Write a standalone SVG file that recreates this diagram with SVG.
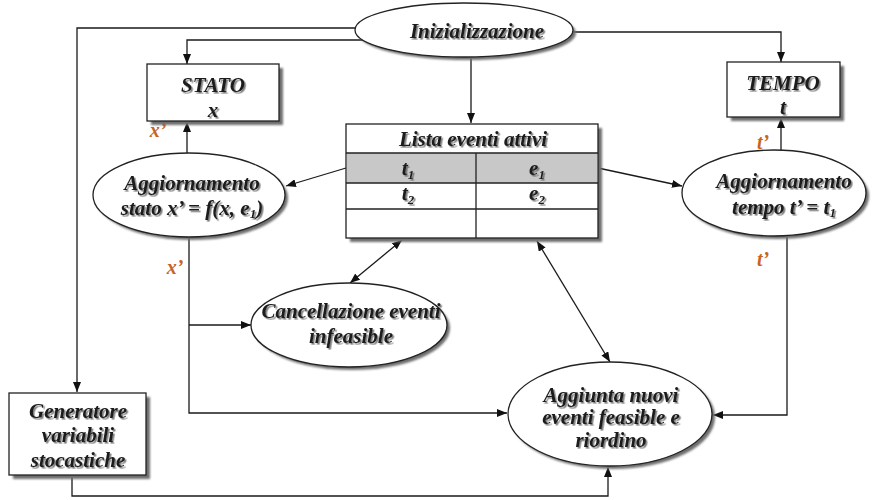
<svg xmlns="http://www.w3.org/2000/svg" width="873" height="500" viewBox="0 0 873 500">
  <defs>
    <marker id="arr" markerUnits="userSpaceOnUse" markerWidth="10" markerHeight="8" refX="10" refY="4" orient="auto-start-reverse">
      <path d="M0,0 L10,4 L0,8 Z" fill="#111"/>
    </marker>
    <filter id="tshadow" x="-10%" y="-30%" width="120%" height="160%">
      <feDropShadow dx="1.6" dy="1.6" stdDeviation="0.7" flood-color="#555" flood-opacity="0.75"/>
    </filter>
    <filter id="soft" x="-10%" y="-10%" width="130%" height="130%">
      <feGaussianBlur stdDeviation="1"/>
    </filter>
  </defs>
  <style>
    .node { fill: #fff; stroke: #222; stroke-width: 1.3; }
    .shadow { fill: #6e6e6e; filter: url(#soft); }
    .lbl { font-family: "Liberation Serif", "Times New Roman", serif; font-weight: bold; font-style: italic; font-size: 21px; fill: #1a1a1a; text-anchor: middle; filter: url(#tshadow); }
    .var { font-family: "Liberation Serif", "Times New Roman", serif; font-weight: bold; font-style: italic; font-size: 20px; fill: #c8641e; text-anchor: middle; }
    .conn path { fill: none; stroke: #1a1a1a; stroke-width: 1.3; }
    .grid { stroke: #222; stroke-width: 1.3; fill: none; }
  </style>
  <rect width="873" height="500" fill="#fff"/>

  <!-- connectors -->
  <g id="connectors" class="conn">
    <path d="M357,28 H77 V392" marker-end="url(#arr)"/>
    <path d="M363,40 H187 V64" marker-end="url(#arr)"/>
    <path d="M573,32 H781 V62" marker-end="url(#arr)"/>
    <path d="M471,57 V123" marker-end="url(#arr)"/>
    <path d="M346,168 L286,186" marker-end="url(#arr)"/>
    <path d="M598,168 L682,186" marker-end="url(#arr)"/>
    <path d="M187,153 V122" marker-end="url(#arr)"/>
    <path d="M781,150 V118" marker-end="url(#arr)"/>
    <path d="M189,237 V413 H507" marker-end="url(#arr)"/>
    <path d="M189,325 H251" marker-end="url(#arr)"/>
    <path d="M787,237 V415 H713" marker-end="url(#arr)"/>
    <path d="M72,475 V496 H608 V467" marker-end="url(#arr)"/>
    <path d="M402,240 L350,283" marker-start="url(#arr)" marker-end="url(#arr)"/>
    <path d="M537,241 L610,362" marker-start="url(#arr)" marker-end="url(#arr)"/>
  </g>

  <!-- variable labels on the update links -->
  <g id="var-labels">
    <text class="var" x="158" y="137">x’</text>
    <text class="var" x="175" y="274">x’</text>
    <text class="var" x="763" y="149">t’</text>
    <text class="var" x="763" y="266">t’</text>
  </g>

  <g id="inizializzazione">
    <ellipse class="shadow" cx="467" cy="33" rx="109" ry="27"/>
    <ellipse class="node" cx="464" cy="30" rx="109" ry="27"/>
    <text class="lbl" x="477" y="38">Inizializzazione</text>
  </g>

  <g id="stato">
    <rect class="shadow" x="151" y="68" width="132" height="57"/>
    <rect class="node" x="147" y="64" width="132" height="57"/>
    <text class="lbl" x="213" y="92">STATO</text>
    <text class="lbl" x="213" y="117">x</text>
  </g>

  <g id="tempo">
    <rect class="shadow" x="731" y="66" width="113" height="55"/>
    <rect class="node" x="727" y="62" width="113" height="55"/>
    <text class="lbl" x="783" y="90">TEMPO</text>
    <text class="lbl" x="783" y="114">t</text>
  </g>

  <g id="lista-eventi">
    <rect class="shadow" x="350" y="128" width="252" height="114"/>
    <rect x="346" y="124" width="252" height="114" fill="#fff"/>
    <rect x="347" y="153" width="250" height="30" fill="#c8c8c8"/>
    <rect class="grid" x="346" y="124" width="252" height="114"/>
    <path class="grid" d="M346,153 H598 M346,183 H598 M346,209 H598 M476,153 V238"/>
    <text class="lbl" x="473" y="146" font-size="20">Lista eventi attivi</text>
    <text class="lbl" x="408" y="175">t<tspan font-size="13" dy="4">1</tspan></text>
    <text class="lbl" x="537" y="175">e<tspan font-size="13" dy="4">1</tspan></text>
    <text class="lbl" x="408" y="200">t<tspan font-size="13" dy="4">2</tspan></text>
    <text class="lbl" x="537" y="200">e<tspan font-size="13" dy="4">2</tspan></text>
  </g>

  <g id="aggiornamento-stato">
    <ellipse class="shadow" cx="192" cy="198" rx="96" ry="42"/>
    <ellipse class="node" cx="189" cy="195" rx="96" ry="42"/>
    <text class="lbl" x="192" y="190">Aggiornamento</text>
    <text class="lbl" x="192" y="215">stato x’ = f(x, e<tspan font-size="13" dy="3">1</tspan><tspan dy="-3">)</tspan></text>
  </g>

  <g id="aggiornamento-tempo">
    <ellipse class="shadow" cx="777" cy="196" rx="92" ry="43"/>
    <ellipse class="node" cx="774" cy="193" rx="92" ry="43"/>
    <text class="lbl" x="784" y="188">Aggiornamento</text>
    <text class="lbl" x="784" y="214">tempo t’ = t<tspan font-size="13" dy="3">1</tspan></text>
  </g>

  <g id="cancellazione">
    <ellipse class="shadow" cx="352" cy="328" rx="98" ry="42"/>
    <ellipse class="node" cx="349" cy="325" rx="98" ry="42"/>
    <text class="lbl" x="351" y="318">Cancellazione eventi</text>
    <text class="lbl" x="351" y="343">infeasible</text>
  </g>

  <g id="aggiunta">
    <ellipse class="shadow" cx="613" cy="417" rx="102" ry="52"/>
    <ellipse class="node" cx="610" cy="414" rx="102" ry="52"/>
    <text class="lbl" x="611" y="402">Aggiunta nuovi</text>
    <text class="lbl" x="611" y="424">eventi feasible e</text>
    <text class="lbl" x="611" y="447">riordino</text>
  </g>

  <g id="generatore">
    <rect class="shadow" x="13" y="397" width="137" height="82"/>
    <rect class="node" x="9" y="393" width="137" height="82"/>
    <text class="lbl" x="78" y="418">Generatore</text>
    <text class="lbl" x="78" y="442">variabili</text>
    <text class="lbl" x="78" y="467">stocastiche</text>
  </g>
</svg>
